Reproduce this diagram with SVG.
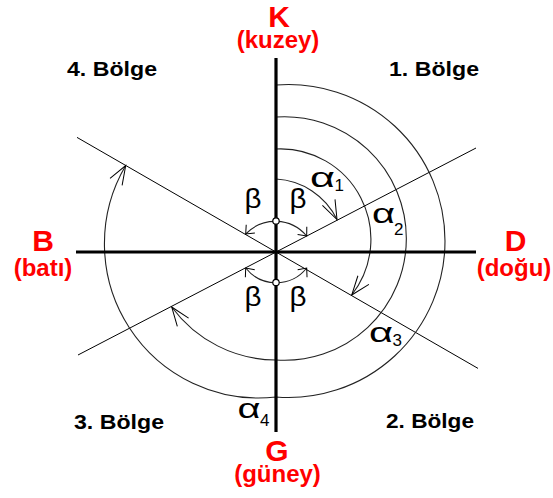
<svg xmlns="http://www.w3.org/2000/svg" width="553" height="498" viewBox="0 0 553 498">
<style>
.axis{stroke:#000;stroke-width:3.2;fill:none}
.ln{stroke:#000;stroke-width:1;fill:none}
.arc{stroke:#222;stroke-width:1.1;fill:none}
.dir{font-family:"Liberation Sans",Arial,sans-serif;font-weight:bold;fill:#ff0000;text-anchor:middle}
.big{font-size:30px}
.sub{font-size:24px}
.reg{font-family:"Liberation Sans",Arial,sans-serif;font-weight:bold;font-size:21px;fill:#000}
.gr{font-family:"Liberation Sans",Arial,sans-serif;font-size:27px;fill:#000}
.al{font-family:"Liberation Sans",Arial,sans-serif;font-size:28px;fill:#000}
.ix{font-family:"Liberation Sans",Arial,sans-serif;font-size:17px;fill:#000}
</style>
<defs>
<marker id="ah" markerUnits="userSpaceOnUse" orient="auto" markerWidth="30" markerHeight="30" refX="0" refY="0" overflow="visible">
<path d="M-19,-7 L0,0 L-19,7" fill="none" stroke="#000" stroke-width="1"/>
</marker>
<marker id="bh" markerUnits="userSpaceOnUse" orient="auto-start-reverse" markerWidth="20" markerHeight="20" refX="0" refY="0" overflow="visible">
<path d="M-7,-6 L0,0 L-7,6" fill="none" stroke="#000" stroke-width="1"/>
</marker>
</defs>
<g id="connectors">
<line class="ln" x1="77" y1="137.4" x2="478" y2="368.4"/>
<line class="ln" x1="78" y1="355" x2="476" y2="148"/>
<path class="arc" d="M276,179 A72,72 0 0 1 337,219.5" marker-end="url(#ah)"/>
<path class="arc" d="M276,149 A90.4,90.4 0 0 1 351.7,295" marker-end="url(#ah)"/>
<path class="arc" d="M276,117 A121.8,121.8 0 1 1 276,360 A130.2,130.2 0 0 1 171.7,307" marker-end="url(#ah)"/>
<path class="arc" d="M276,85 A156.5,156.5 0 1 1 276,397 A154.3,154.3 0 0 1 125.7,165.5" marker-end="url(#ah)"/>
<path class="arc" d="M245.7,234 A41,41 0 0 1 306.7,236" marker-start="url(#bh)" marker-end="url(#bh)"/>
<path class="arc" d="M245.7,268 A39,39 0 0 0 306.7,268" marker-start="url(#bh)" marker-end="url(#bh)"/>
<line class="axis" x1="76" y1="252" x2="476" y2="252"/>
<line class="axis" x1="276" y1="58" x2="276" y2="432"/>
<circle cx="276" cy="221" r="3.2" fill="#fff" stroke="#000" stroke-width="1.2"/>
<circle cx="276" cy="282.5" r="3.2" fill="#fff" stroke="#000" stroke-width="1.2"/>
</g>
<g id="north"><text class="dir big" x="279" y="27">K</text><text class="dir sub" x="278" y="48">(kuzey)</text></g>
<g id="west"><text class="dir big" x="43" y="251">B</text><text class="dir sub" x="43" y="276">(batı)</text></g>
<g id="east"><text class="dir big" x="515.5" y="251">D</text><text class="dir sub" x="514" y="276">(doğu)</text></g>
<g id="south"><text class="dir big" x="277" y="460.5">G</text><text class="dir sub" x="277.5" y="482">(güney)</text></g>
<g id="region1"><text class="reg" x="389" y="75.5" textLength="90" lengthAdjust="spacingAndGlyphs">1. Bölge</text></g>
<g id="region2"><text class="reg" x="386" y="428" textLength="88" lengthAdjust="spacingAndGlyphs">2. Bölge</text></g>
<g id="region3"><text class="reg" x="74" y="429" textLength="90" lengthAdjust="spacingAndGlyphs">3. Bölge</text></g>
<g id="region4"><text class="reg" x="67" y="75.5" textLength="90" lengthAdjust="spacingAndGlyphs">4. Bölge</text></g>
<g id="beta">
<text class="gr" x="244.5" y="208" textLength="17" lengthAdjust="spacingAndGlyphs">β</text>
<text class="gr" x="289.5" y="208" textLength="17" lengthAdjust="spacingAndGlyphs">β</text>
<text class="gr" x="244.5" y="306" textLength="17" lengthAdjust="spacingAndGlyphs">β</text>
<text class="gr" x="289.5" y="306" textLength="17" lengthAdjust="spacingAndGlyphs">β</text>
</g>
<g id="alpha1"><text class="al" x="310" y="187" textLength="25" lengthAdjust="spacingAndGlyphs">α</text><text class="ix" x="334.5" y="191">1</text></g>
<g id="alpha2"><text class="al" x="372" y="223" textLength="23" lengthAdjust="spacingAndGlyphs">α</text><text class="ix" x="394" y="235">2</text></g>
<g id="alpha3"><text class="al" x="369" y="341.5" textLength="24" lengthAdjust="spacingAndGlyphs">α</text><text class="ix" x="392.5" y="345.5">3</text></g>
<g id="alpha4"><text class="al" x="237.5" y="418" textLength="23" lengthAdjust="spacingAndGlyphs">α</text><text class="ix" x="260" y="425.5">4</text></g>
</svg>
